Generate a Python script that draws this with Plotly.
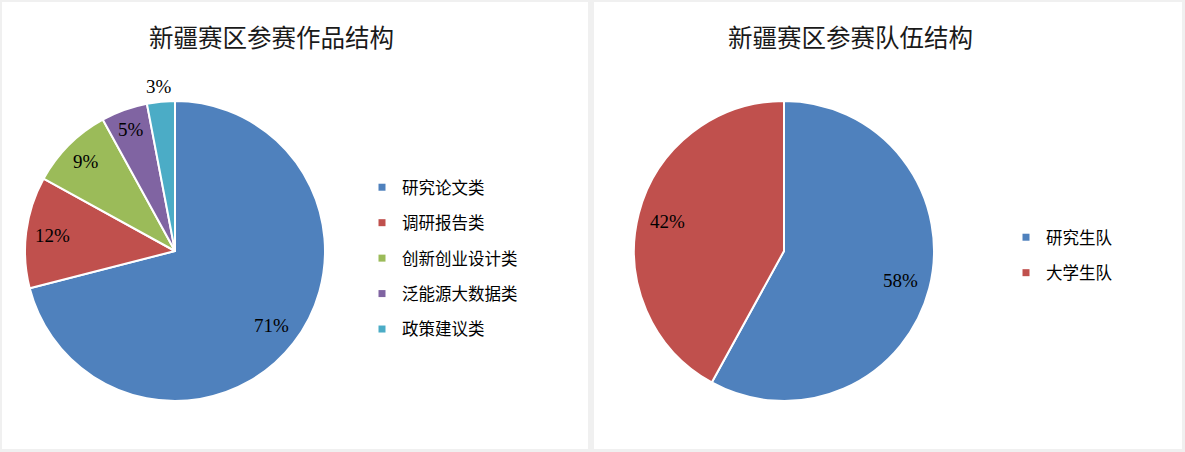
import math
import plotly.graph_objects as go

W, H = 1185, 452

title_left = "新疆赛区参赛作品结构"
title_right = "新疆赛区参赛队伍结构"
work_labels = ["研究论文类", "调研报告类", "创新创业设计类", "泛能源大数据类", "政策建议类"]
work_values = [71, 12, 9, 5, 3]
team_labels = ["研究生队", "大学生队"]
team_values = [58, 42]

colors_left = ["#4F81BD", "#C0504D", "#9BBB59", "#8064A2", "#4BACC6"]
colors_right = ["#4F81BD", "#C0504D"]

def px(x):
    return x / W

def py(y):
    return 1 - y / H

fig = go.Figure()

label_font = dict(family="Liberation Serif, Times New Roman, serif", size=19, color="#000000")
cjk = "Noto Sans CJK SC, sans-serif"

R = 150
pies = [
    dict(labels=work_labels, values=work_values, colors=colors_left, cx=175, cy=251,
         radial=[0.81, 0.82, 0.84, 0.86, 1.1]),
    dict(labels=team_labels, values=team_values, colors=colors_right, cx=784, cy=251,
         radial=[0.8, 0.8]),
]

annotations = []
for p in pies:
    fig.add_trace(go.Pie(
        labels=p["labels"], values=p["values"], sort=False, direction="clockwise", rotation=0,
        marker=dict(colors=p["colors"], line=dict(color="white", width=2)),
        textinfo="none", showlegend=False,
        domain=dict(x=[px(p["cx"] - R), px(p["cx"] + R)], y=[py(p["cy"] + R), py(p["cy"] - R)]),
    ))
    total = sum(p["values"])
    cum = 0
    for v, k in zip(p["values"], p["radial"]):
        mid = (cum + v / 2) / total * 2 * math.pi
        cum += v
        x = p["cx"] + k * R * math.sin(mid)
        y = p["cy"] - k * R * math.cos(mid)
        annotations.append(dict(text=f"{round(v / total * 100)}%", x=px(x), y=py(y),
                                xref="paper", yref="paper", showarrow=False, font=label_font,
                                xanchor="center", yanchor="middle"))

for lab, col in zip(work_labels, colors_left):
    fig.add_trace(go.Scatter(x=[None], y=[None], mode="markers", name=lab,
                             marker=dict(symbol="square", size=7, color=col),
                             legend="legend", legendgroup=lab, xaxis="x", yaxis="y"))
for lab, col in zip(team_labels, colors_right):
    fig.add_trace(go.Scatter(x=[None], y=[None], mode="markers", name=lab,
                             marker=dict(symbol="square", size=7, color=col),
                             legend="legend2", legendgroup=lab + "2", xaxis="x", yaxis="y"))

legend_common = dict(font=dict(family=cjk, size=16.5, color="#000000"), bgcolor="rgba(0,0,0,0)",
                     traceorder="grouped", tracegroupgap=11, itemwidth=30,
                     xanchor="left", yanchor="top")

annotations += [
    dict(text=title_left, x=px(271), y=py(36), xref="paper", yref="paper", showarrow=False,
         font=dict(family=cjk, size=24.5, color="#1a1a1a"), xanchor="center", yanchor="middle"),
    dict(text=title_right, x=px(850), y=py(36), xref="paper", yref="paper", showarrow=False,
         font=dict(family=cjk, size=24.5, color="#1a1a1a"), xanchor="center", yanchor="middle"),
]

fig.update_layout(
    width=W, height=H,
    margin=dict(l=0, r=0, t=0, b=0),
    paper_bgcolor="#F0F0F0", plot_bgcolor="rgba(0,0,0,0)",
    xaxis=dict(visible=False, domain=[0, 0.01]), yaxis=dict(visible=False, domain=[0, 0.01]),
    legend=dict(x=px(362), y=py(170), **legend_common),
    legend2=dict(x=px(1006), y=py(220), **legend_common),
    shapes=[
        dict(type="rect", xref="paper", yref="paper", x0=px(2), x1=px(588), y0=py(449), y1=py(2),
             fillcolor="white", line=dict(width=0), layer="below"),
        dict(type="rect", xref="paper", yref="paper", x0=px(594), x1=px(1182), y0=py(449), y1=py(2),
             fillcolor="white", line=dict(width=0), layer="below"),
    ],
    annotations=annotations,
)

fig.write_html("out.html", config={"displayModeBar": False},
               post_script="document.body.style.margin='0';document.body.style.overflow='hidden';")
